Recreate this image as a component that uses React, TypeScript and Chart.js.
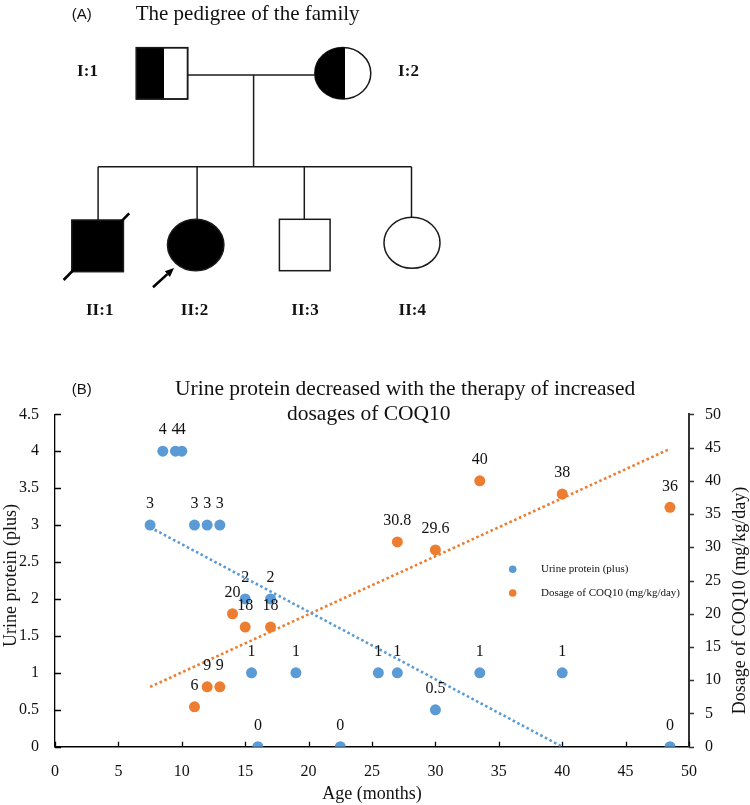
import React, { useEffect, useRef } from "react";
import { Chart, registerables } from "chart.js";

Chart.register(...registerables);

// ---- data ----
const proteinAge = [7.5, 8.5, 9.5, 10, 11, 12, 13, 15, 15.5, 16, 17, 19, 22.5, 25.5, 27, 30, 33.5, 40, 48.5];
const proteinPlus = [3, 4, 4, 4, 3, 3, 3, 2, 1, 0, 2, 1, 0, 1, 1, 0.5, 1, 1, 0];
const doseAge = [11, 12, 13, 14, 15, 17, 27, 30, 33.5, 40, 48.5];
const doseMgKgDay = [6, 9, 9, 20, 18, 18, 30.8, 29.6, 40, 38, 36];
const proteinTrendAge = [7.5, 40];
const proteinTrendValue = [2.97, 0];
const doseTrendAge = [7.5, 48.5];
const doseTrendValue = [9.0, 44.8];

const ageTicks = [0, 5, 10, 15, 20, 25, 30, 35, 40, 45, 50];
const proteinTicks = [0, 0.5, 1, 1.5, 2, 2.5, 3, 3.5, 4, 4.5];
const doseTicks = [0, 5, 10, 15, 20, 25, 30, 35, 40, 45, 50];

const seriesNames = ["Urine protein (plus)", "Dosage of COQ10 (mg/kg/day)"];
const chartTitle = ["Urine protein decreased with the therapy of increased", "dosages of COQ10"];
const xTitle = "Age (months)";
const yTitle = "Urine protein (plus)";
const y1Title = "Dosage of COQ10 (mg/kg/day)";

const BLUE = "#5B9BD5";
const ORANGE = "#ED7D31";
const SERIF = '"Liberation Serif", "Times New Roman", serif';
const SANS = '"Liberation Sans", Arial, sans-serif';

const toPoints = (xs: number[], ys: number[]) => xs.map((x, i) => ({ x, y: ys[i] }));

const tickMarks = {
  id: "tickMarks",
  beforeDatasetsDraw(chart: any) {
    const { ctx, chartArea, scales } = chart;
    ctx.save();
    ctx.strokeStyle = "#000";
    ctx.lineWidth = 1.3;
    ctx.beginPath();
    scales.x.ticks.forEach((t: any) => {
      const px = Math.round(scales.x.getPixelForValue(t.value)) + 0.5;
      ctx.moveTo(px, chartArea.bottom);
      ctx.lineTo(px, chartArea.bottom - 5);
    });
    scales.y.ticks.forEach((t: any) => {
      const py = Math.round(scales.y.getPixelForValue(t.value)) + 0.5;
      ctx.moveTo(chartArea.left, py);
      ctx.lineTo(chartArea.left + 6, py);
    });
    ctx.stroke();
    ctx.strokeStyle = "#333";
    ctx.beginPath();
    scales.y1.ticks.forEach((t: any) => {
      const py = Math.round(scales.y1.getPixelForValue(t.value)) + 0.5;
      ctx.moveTo(chartArea.right, py);
      ctx.lineTo(chartArea.right + 5, py);
    });
    ctx.stroke();
    ctx.restore();
  },
};

const pointLabels = {
  id: "pointLabels",
  afterDatasetsDraw(chart: any) {
    const ctx = chart.ctx;
    ctx.save();
    ctx.font = `16px ${SERIF}`;
    ctx.fillStyle = "#111";
    ctx.textAlign = "center";
    ctx.textBaseline = "middle";
    chart.data.datasets.forEach((ds: any, i: number) => {
      if (!ds.showValueLabels) return;
      const meta = chart.getDatasetMeta(i);
      meta.data.forEach((el: any, j: number) => {
        ctx.fillText(String(ds.data[j].y), el.x, el.y - 21);
      });
    });
    ctx.restore();
  },
};

const extras = {
  id: "extras",
  afterDraw(chart: any) {
    const { ctx, chartArea } = chart;
    ctx.save();
    // axis titles (both read bottom-to-top)
    ctx.fillStyle = "#111";
    ctx.font = `18px ${SERIF}`;
    ctx.textAlign = "center";
    ctx.textBaseline = "middle";
    ctx.save();
    ctx.translate(11, chartArea.top + (chartArea.bottom - chartArea.top) / 2 - 5);
    ctx.rotate(-Math.PI / 2);
    ctx.fillText(yTitle, 0, 0);
    ctx.restore();
    ctx.save();
    ctx.translate(740, chartArea.top + (chartArea.bottom - chartArea.top) / 2 + 20);
    ctx.rotate(-Math.PI / 2);
    ctx.fillText(y1Title, 0, 0);
    ctx.restore();
    // legend
    const colors = [BLUE, ORANGE];
    ctx.font = `11px ${SERIF}`;
    ctx.textAlign = "left";
    seriesNames.forEach((name, i) => {
      const ly = chartArea.top + 155 + i * 23.7;
      ctx.fillStyle = colors[i];
      ctx.beginPath();
      ctx.arc(chartArea.left + 457.7, ly, 3.8, 0, Math.PI * 2);
      ctx.fill();
      ctx.fillStyle = "#111";
      ctx.fillText(name, chartArea.left + 486, ly);
    });
    ctx.restore();
  },
};

function Pedigree() {
  const stroke = "#1a1a1a";
  const sw = 1.5;
  // arrow
  const tip = { x: 174, y: 268 };
  const tail = { x: 153, y: 287.3 };
  const dx = tip.x - tail.x;
  const dy = tip.y - tail.y;
  const len = Math.hypot(dx, dy);
  const ux = dx / len;
  const uy = dy / len;
  const bx = tip.x - ux * 9;
  const by = tip.y - uy * 9;
  const nx = -uy;
  const ny = ux;
  const head = `${tip.x},${tip.y} ${bx + nx * 3.8},${by + ny * 3.8} ${bx - nx * 3.8},${by - ny * 3.8}`;
  const boldLabel = { fontFamily: SERIF, fontWeight: 700, fontSize: 17 } as any;
  return (
    <svg width={750} height={805} style={{ position: "absolute", left: 0, top: 0, pointerEvents: "none" }}>
      <defs>
        <clipPath id="halfLeft">
          <rect x={0} y={0} width={345} height={200} />
        </clipPath>
      </defs>
      <text x={71.7} y={13} fontFamily={SANS} fontSize={15} dominantBaseline="central" fill="#111">(A)</text>
      <text x={135.7} y={13} fontFamily={SERIF} fontSize={21} dominantBaseline="central" fill="#111">The pedigree of the family</text>

      {/* generation I */}
      <text x={87.5} y={70} textAnchor="middle" dominantBaseline="central" fill="#111" style={boldLabel}>I:1</text>
      <text x={408.5} y={70} textAnchor="middle" dominantBaseline="central" fill="#111" style={boldLabel}>I:2</text>
      <rect x={136.4} y={47.7} width={51.2} height={51.3} fill="#fff" stroke={stroke} strokeWidth={sw} />
      <rect x={136.4} y={47.7} width={27.6} height={51.3} fill="#000" />
      <rect x={136.4} y={47.7} width={51.2} height={51.3} fill="none" stroke={stroke} strokeWidth={sw} />
      <ellipse cx={342.8} cy={73.3} rx={28} ry={25.7} fill="#fff" stroke={stroke} strokeWidth={sw} />
      <ellipse cx={342.8} cy={73.3} rx={28} ry={25.7} fill="#000" clipPath="url(#halfLeft)" />
      <line x1={187.6} y1={75} x2={314.8} y2={75} stroke={stroke} strokeWidth={sw} />
      <line x1={253.6} y1={75} x2={253.6} y2={166.7} stroke={stroke} strokeWidth={sw} />
      <line x1={98.1} y1={166.7} x2={411.5} y2={166.7} stroke={stroke} strokeWidth={sw} />
      <line x1={98.1} y1={166.7} x2={98.1} y2={220} stroke={stroke} strokeWidth={sw} />
      <line x1={197.1} y1={166.7} x2={197.1} y2={219.2} stroke={stroke} strokeWidth={sw} />
      <line x1={304.3} y1={166.7} x2={304.3} y2={219.3} stroke={stroke} strokeWidth={sw} />
      <line x1={411.5} y1={166.7} x2={411.5} y2={217.3} stroke={stroke} strokeWidth={sw} />

      {/* generation II */}
      <rect x={71.8} y={220} width={51.6} height={51.7} fill="#000" stroke={stroke} strokeWidth={sw} />
      <line x1={63.6} y1={280} x2={129.2} y2={213.3} stroke="#000" strokeWidth={2.6} />
      <ellipse cx={195.7} cy={245} rx={28.2} ry={25.8} fill="#000" stroke={stroke} strokeWidth={sw} />
      <line x1={tail.x} y1={tail.y} x2={bx} y2={by} stroke="#000" strokeWidth={2.6} />
      <polygon points={head} fill="#000" />
      <rect x={279.4} y={219.3} width={50.7} height={51.4} fill="#fff" stroke={stroke} strokeWidth={sw} />
      <ellipse cx={412} cy={242.8} rx={28} ry={25.5} fill="#fff" stroke={stroke} strokeWidth={sw} />

      <text x={99.7} y={309} textAnchor="middle" dominantBaseline="central" fill="#111" style={boldLabel}>II:1</text>
      <text x={194.5} y={309} textAnchor="middle" dominantBaseline="central" fill="#111" style={boldLabel}>II:2</text>
      <text x={305} y={309} textAnchor="middle" dominantBaseline="central" fill="#111" style={boldLabel}>II:3</text>
      <text x={412.3} y={309} textAnchor="middle" dominantBaseline="central" fill="#111" style={boldLabel}>II:4</text>

      {/* panel B heading */}
      <text x={71.7} y={388} fontFamily={SANS} fontSize={15} dominantBaseline="central" fill="#111">(B)</text>
      <text x={175} y={387.7} fontFamily={SERIF} fontSize={21.5} dominantBaseline="central" fill="#111">{chartTitle[0]}</text>
      <text x={287} y={412.7} fontFamily={SERIF} fontSize={21.5} dominantBaseline="central" fill="#111">{chartTitle[1]}</text>
    </svg>
  );
}

export default function App() {
  const ref = useRef<HTMLCanvasElement>(null);

  useEffect(() => {
    const setTicks = (vals: number[]) => (s: any) => {
      s.ticks = vals.map((v) => ({ value: v }));
    };
    const tickFont = { family: SERIF, size: 16 };
    const plainLabel = (v: any) => String(v);
    const chart = new Chart(ref.current as HTMLCanvasElement, {
      type: "scatter",
      data: {
        datasets: [
          {
            label: "protein trend",
            data: toPoints(proteinTrendAge, proteinTrendValue),
            showLine: true,
            borderColor: BLUE,
            borderWidth: 2.6,
            borderDash: [2.6, 2.6],
            pointRadius: 0,
            yAxisID: "y",
          },
          {
            label: "dose trend",
            data: toPoints(doseTrendAge, doseTrendValue),
            showLine: true,
            borderColor: ORANGE,
            borderWidth: 2.6,
            borderDash: [2.6, 2.6],
            pointRadius: 0,
            yAxisID: "y1",
          },
          {
            label: seriesNames[0],
            data: toPoints(proteinAge, proteinPlus),
            backgroundColor: BLUE,
            borderWidth: 0,
            pointRadius: 5.5,
            yAxisID: "y",
            showValueLabels: true,
          } as any,
          {
            label: seriesNames[1],
            data: toPoints(doseAge, doseMgKgDay),
            backgroundColor: ORANGE,
            borderWidth: 0,
            pointRadius: 5.5,
            yAxisID: "y1",
            showValueLabels: true,
          } as any,
        ],
      },
      options: {
        responsive: false,
        animation: false,
        events: [],
        layout: { padding: { top: 44.3, left: 0, right: 0, bottom: 0 } },
        plugins: {
          legend: { display: false },
          title: { display: false },
          tooltip: { enabled: false },
        },
        scales: {
          x: {
            type: "linear",
            position: "bottom",
            min: 0,
            max: 50,
            afterBuildTicks: setTicks(ageTicks),
            afterFit: (s: any) => {
              s.height = 58.3;
            },
            grid: { display: false, drawTicks: false },
            border: { display: true, color: "#000", width: 1.5 },
            ticks: { padding: 15.4, color: "#111", font: tickFont, maxRotation: 0, autoSkip: false, callback: plainLabel },
            title: {
              display: true,
              text: xTitle,
              color: "#111",
              font: { family: SERIF, size: 18 },
              padding: { top: 1.2, bottom: 0 },
            },
          },
          y: {
            type: "linear",
            position: "left",
            min: 0,
            max: 4.5,
            afterBuildTicks: setTicks(proteinTicks),
            afterFit: (s: any) => {
              s.width = 55;
            },
            grid: { display: false, drawTicks: false },
            border: { display: true, color: "#000", width: 1.3 },
            ticks: { padding: 16, color: "#111", font: tickFont, autoSkip: false, callback: plainLabel },
          },
          y1: {
            type: "linear",
            position: "right",
            min: 0,
            max: 50,
            afterBuildTicks: setTicks(doseTicks),
            afterFit: (s: any) => {
              s.width = 61;
            },
            grid: { display: false, drawTicks: false },
            border: { display: true, color: "#333", width: 2 },
            ticks: { padding: 16, color: "#111", font: tickFont, autoSkip: false, callback: plainLabel },
          },
        },
      } as any,
      plugins: [tickMarks, pointLabels, extras],
    });
    return () => chart.destroy();
  }, []);

  return (
    <div
      style={{
        position: "absolute",
        left: 0,
        top: 0,
        width: 750,
        height: 805,
        background: "#fff",
        overflow: "hidden",
      }}
    >
      <div style={{ position: "absolute", left: 0, top: 370, width: 750, height: 435 }}>
        <canvas ref={ref} width={750} height={435} style={{ width: 750, height: 435, display: "block" }} />
      </div>
      <Pedigree />
    </div>
  );
}
